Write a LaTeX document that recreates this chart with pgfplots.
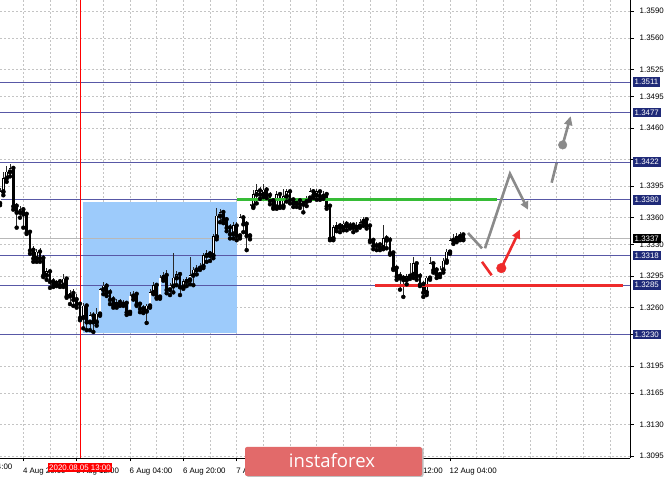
\documentclass[border=0pt]{standalone}
\usepackage{fontspec}
\setmainfont{Liberation Sans}
\newfontfamily\wmfont{Open Sans}
\usepackage{pgfplots}
\usepackage{pgfplotstable}
\pgfplotsset{compat=1.18}
\usetikzlibrary{arrows.meta}

\definecolor{gridc}{HTML}{C4C4C4}
\definecolor{hline}{HTML}{5858A6}
\definecolor{tagnavy}{HTML}{1F2A78}
\definecolor{zone}{HTML}{9DCBFB}
\definecolor{lvlgreen}{HTML}{36BC36}
\definecolor{lvlred}{HTML}{EE2B2B}
\definecolor{fcgray}{HTML}{8A8A8A}
\definecolor{bidgray}{HTML}{B8B8B8}
\definecolor{wmred}{HTML}{E26A6A}
\definecolor{wick}{HTML}{2A2A2A}

\newcommand\lbl{\fontsize{7.9}{8.5}\selectfont}

% H1 bars: index, open, high, low, close
\pgfplotstableread{
i o h l c
0 1.3376 1.3393 1.3374 1.3389
1 1.3389 1.3411 1.3385 1.3404
2 1.3404 1.3418 1.3400 1.3411
3 1.3411 1.3420 1.3406 1.3415
4 1.3415 1.3418 1.3369 1.3373
5 1.3373 1.3376 1.3349 1.3366
6 1.3366 1.3373 1.3360 1.3369
7 1.3369 1.3372 1.3349 1.3364
8 1.3364 1.3366 1.3342 1.3344
9 1.3344 1.3346 1.3320 1.3324
10 1.3324 1.3329 1.3311 1.3315
11 1.3315 1.3325 1.3311 1.3322
12 1.3322 1.3326 1.3311 1.3315
13 1.3315 1.3319 1.3294 1.3296
14 1.3296 1.3304 1.3291 1.3300
15 1.3300 1.3302 1.3282 1.3289
16 1.3289 1.3293 1.3283 1.3286
17 1.3286 1.3291 1.3284 1.3289
18 1.3289 1.3292 1.3283 1.3285
19 1.3285 1.3297 1.3283 1.3292
20 1.3292 1.3294 1.3271 1.3273
21 1.3273 1.3280 1.3264 1.3276
22 1.3276 1.3281 1.3262 1.3269
23 1.3269 1.3275 1.3260 1.3264
24 1.3264 1.3266 1.3246 1.3249
25 1.3249 1.3265 1.3237 1.3262
26 1.3262 1.3264 1.3235 1.3244
27 1.3244 1.3255 1.3235 1.3251
28 1.3251 1.3255 1.3233 1.3244
29 1.3244 1.3260 1.3240 1.3253
30 1.3253 1.3282 1.3251 1.3280
31 1.3280 1.3289 1.3275 1.3284
32 1.3284 1.3287 1.3273 1.3277
33 1.3277 1.3281 1.3264 1.3269
34 1.3269 1.3273 1.3260 1.3263
35 1.3263 1.3270 1.3260 1.3266
36 1.3266 1.3270 1.3262 1.3264
37 1.3264 1.3269 1.3262 1.3265
38 1.3265 1.3267 1.3252 1.3255
39 1.3255 1.3277 1.3253 1.3273
40 1.3273 1.3279 1.3269 1.3275
41 1.3275 1.3277 1.3262 1.3264
42 1.3264 1.3266 1.3255 1.3259
43 1.3259 1.3263 1.3254 1.3256
44 1.3256 1.3264 1.3243 1.3262
45 1.3262 1.3281 1.3260 1.3277
46 1.3277 1.3289 1.3275 1.3285
47 1.3285 1.3287 1.3270 1.3272
48 1.3272 1.3296 1.3270 1.3293
49 1.3293 1.3300 1.3290 1.3296
50 1.3296 1.3302 1.3276 1.3280
51 1.3280 1.3287 1.3274 1.3284
52 1.3284 1.3321 1.3277 1.3293
53 1.3293 1.3301 1.3285 1.3297
54 1.3297 1.3300 1.3274 1.3283
55 1.3283 1.3292 1.3281 1.3289
56 1.3289 1.3294 1.3284 1.3291
57 1.3291 1.3316 1.3286 1.3296
58 1.3296 1.3305 1.3285 1.3302
59 1.3302 1.3307 1.3297 1.3304
60 1.3304 1.3310 1.3302 1.3306
61 1.3306 1.3321 1.3304 1.3318
62 1.3318 1.3324 1.3311 1.3320
63 1.3320 1.3323 1.3312 1.3318
64 1.3318 1.3342 1.3315 1.3339
65 1.3339 1.3371 1.3336 1.3362
66 1.3362 1.3370 1.3355 1.3366
67 1.3366 1.3369 1.3354 1.3358
68 1.3358 1.3361 1.3345 1.3349
69 1.3349 1.3353 1.3337 1.3342
70 1.3342 1.3355 1.3337 1.3351
71 1.3351 1.3355 1.3335 1.3340
72 1.3340 1.3364 1.3337 1.3360
73 1.3360 1.3363 1.3344 1.3353
74 1.3353 1.3356 1.3324 1.3340
75 1.3340 1.3375 1.3336 1.3373
76 1.3373 1.3391 1.3371 1.3386
77 1.3386 1.3398 1.3376 1.3390
78 1.3390 1.3394 1.3381 1.3386
79 1.3386 1.3398 1.3383 1.3391
80 1.3391 1.3394 1.3382 1.3385
81 1.3385 1.3389 1.3375 1.3379
82 1.3379 1.3382 1.3370 1.3372
83 1.3372 1.3390 1.3370 1.3386
84 1.3386 1.3389 1.3371 1.3373
85 1.3373 1.3392 1.3371 1.3384
86 1.3384 1.3392 1.3378 1.3389
87 1.3389 1.3391 1.3376 1.3380
88 1.3380 1.3382 1.3372 1.3376
89 1.3376 1.3381 1.3372 1.3379
90 1.3379 1.3381 1.3371 1.3375
91 1.3375 1.3381 1.3366 1.3378
92 1.3378 1.3384 1.3373 1.3382
93 1.3382 1.3393 1.3379 1.3389
94 1.3389 1.3392 1.3382 1.3385
95 1.3385 1.3392 1.3380 1.3389
96 1.3389 1.3391 1.3380 1.3384
97 1.3384 1.3390 1.3381 1.3386
98 1.3386 1.3388 1.3370 1.3373
99 1.3373 1.3375 1.3335 1.3337
100 1.3337 1.3352 1.3335 1.3349
101 1.3349 1.3355 1.3345 1.3351
102 1.3351 1.3354 1.3344 1.3349
103 1.3349 1.3356 1.3346 1.3353
104 1.3353 1.3356 1.3346 1.3351
105 1.3351 1.3355 1.3348 1.3352
106 1.3352 1.3354 1.3344 1.3349
107 1.3349 1.3355 1.3346 1.3351
108 1.3351 1.3359 1.3349 1.3355
109 1.3355 1.3361 1.3351 1.3358
110 1.3358 1.3360 1.3348 1.3351
111 1.3351 1.3353 1.3333 1.3335
112 1.3335 1.3337 1.3325 1.3329
113 1.3329 1.3333 1.3324 1.3330
114 1.3330 1.3332 1.3324 1.3327
115 1.3327 1.3352 1.3325 1.3337
116 1.3337 1.3341 1.3326 1.3335
117 1.3335 1.3339 1.3319 1.3321
118 1.3321 1.3323 1.3302 1.3304
119 1.3304 1.3307 1.3291 1.3295
120 1.3295 1.3300 1.3280 1.3293
121 1.3293 1.3296 1.3272 1.3291
122 1.3291 1.3297 1.3286 1.3295
123 1.3295 1.3310 1.3292 1.3297
124 1.3297 1.3316 1.3293 1.3309
125 1.3309 1.3311 1.3291 1.3295
126 1.3295 1.3299 1.3284 1.3286
127 1.3286 1.3290 1.3272 1.3277
128 1.3277 1.3295 1.3274 1.3293
129 1.3293 1.3316 1.3291 1.3309
130 1.3309 1.3311 1.3299 1.3302
131 1.3302 1.3305 1.3293 1.3297
132 1.3297 1.3306 1.3294 1.3302
133 1.3302 1.3315 1.3299 1.3312
134 1.3312 1.3325 1.3310 1.3322
135 1.3322 1.3337 1.3320 1.3335
136 1.3335 1.3342 1.3331 1.3337
137 1.3337 1.3343 1.3333 1.3339
138 1.3339 1.3344 1.3335 1.3341
139 1.3341 1.3342 1.3335 1.3337
}\bars

\begin{document}
\begin{tikzpicture}
\begin{axis}[
  at={(0pt,20pt)}, anchor=south west,
  scale only axis, width=630pt, height=458pt,
  xmin=0, xmax=189, ymin=1.30928, ymax=1.36022,
  axis x line*=bottom, axis y line*=right,
  axis line style={black, line width=0.8pt},
  clip=false,
  tick align=outside, major tick length=3.5pt, minor tick length=0pt,
  tick style={black, line width=0.6pt},
  xtick={7,23,...,135},
  xticklabels={4 Aug 20:00,5 Aug 12:00,6 Aug 04:00,6 Aug 20:00,7 Aug 12:00,
    {},{},11 Aug 12:00,12 Aug 04:00},
  minor xtick={15,31,47,63,79,95,111,127,143,151,159,167,175,183},
  ytick={1.3095,1.3130,1.3165,1.3195,1.3230,1.3260,1.3295,1.3330,
    1.3360,1.3395,1.3425,1.3460,1.3495,1.3525,1.3560,1.3590},
  yticklabels={1.3095,1.3130,1.3165,1.3195,{},1.3260,1.3295,1.3330,
    1.3360,1.3395,{},1.3460,1.3495,1.3525,1.3560,1.3590},
  grid=both,
  major grid style={gridc, dash pattern=on 2pt off 2pt, line width=0.6pt},
  minor grid style={gridc, dash pattern=on 2pt off 2pt, line width=0.6pt},
  xticklabel style={font=\lbl, anchor=north west, inner sep=0pt, yshift=-6pt, xshift=-0.5pt},
  yticklabel style={font=\lbl, anchor=west, inner sep=0pt, xshift=6pt},
]
  % zone
  \addplot[fill=zone, draw=none] coordinates
    {(24.9,1.3377) (71.1,1.3377) (71.1,1.3232) (24.9,1.3232)};
  % levels
  \addplot[hline, line width=0.9pt] coordinates {(0,1.3511) (189,1.3511)};
  \addplot[hline, line width=0.9pt] coordinates {(0,1.3477) (189,1.3477)};
  \addplot[hline, line width=0.9pt] coordinates {(0,1.3422) (189,1.3422)};
  \addplot[hline, line width=0.9pt] coordinates {(0,1.3380) (189,1.3380)};
  \addplot[hline, line width=0.9pt] coordinates {(0,1.3318) (189,1.3318)};
  \addplot[hline, line width=0.9pt] coordinates {(0,1.3285) (189,1.3285)};
  \addplot[hline, line width=0.9pt] coordinates {(0,1.3230) (189,1.3230)};
  \addplot[bidgray, line width=0.8pt] coordinates {(0,1.3337) (189,1.3337)};
  \addplot[red, line width=0.8pt] coordinates {(24,1.30928) (24,1.36022)};

  % candles: wicks, bodies, hollow up-bodies
  \addplot[only marks, mark=none, forget plot,
    error bars/.cd, y dir=plus, y explicit, error mark=none,
    error bar style={wick, line width=0.8pt}]
    table[x=i, y=l, y error plus expr={\thisrow{h}-\thisrow{l}}] {\bars};
  \addplot[only marks, mark=none, forget plot,
    error bars/.cd, y dir=plus, y explicit, error mark=none,
    error bar style={black, line width=2.6pt}]
    table[x=i, y expr={min(\thisrow{o},\thisrow{c})-0.00004},
      y error plus expr={abs(\thisrow{c}-\thisrow{o})+0.00008}] {\bars};
  \addplot[only marks, mark=none, forget plot,
    error bars/.cd, y dir=plus, y explicit, error mark=none,
    error bar style={white, line width=1.2pt}]
    table[x=i, y expr={\thisrow{o}+0.00004},
      y error plus expr={max(\thisrow{c}-\thisrow{o}-0.00008,0)}] {\bars};

  % drawn levels
  \addplot[lvlgreen, line width=3pt] coordinates {(71.1,1.3380) (149.1,1.3380)};
  \addplot[lvlred, line width=3pt] coordinates {(112.5,1.3285) (186.9,1.3285)};

  % forecast sketch
  \addplot[fcgray, line width=2.6pt] coordinates {(140.4,1.3343) (144.6,1.3326)};
  \addplot[fcgray, line width=2.6pt, line join=miter,
    -{Triangle[length=8pt,width=8pt]}] coordinates
    {(145.5,1.3326) (153,1.3409) (158.4,1.3369)};
  \addplot[fcgray, line width=2.6pt] coordinates {(165.5,1.3399) (167,1.3421)};
  \addplot[fcgray, line width=2.6pt, -{Triangle[length=9pt,width=8pt]}]
    coordinates {(168.8,1.3441) (171.2,1.3473)};
  \addplot[only marks, mark=*, mark size=4.3pt, fcgray] coordinates {(168.8,1.3441)};
  \addplot[lvlred, line width=2.6pt] coordinates {(144.6,1.3311) (147.5,1.3296)};
  \addplot[lvlred, line width=2.6pt, -{Triangle[length=9pt,width=8pt]}]
    coordinates {(150.4,1.3304) (156,1.3347)};
  \addplot[only marks, mark=*, mark size=4.8pt, lvlred] coordinates {(150.4,1.3304)};

  % price tags
  \pgfplotsinvokeforeach{1.3511,1.3477,1.3422,1.3380,1.3318,1.3285,1.3230}{
    \node[fill=tagnavy, text=white, font=\lbl, anchor=west, inner xsep=2pt,
      inner ysep=2pt, xshift=2.5pt] at (axis cs:189,#1) {#1};
  }
  \node[fill=black, text=white, font=\lbl, anchor=west, inner xsep=2pt,
    inner ysep=2pt, xshift=2.5pt] at (axis cs:189,1.3337) {1.3337};
  \node[font=\lbl, anchor=north west, inner sep=0pt, yshift=-6pt, xshift=-0.5pt]
    at (axis cs:-9,1.30928) {4 Aug 04:00};
  \node[fill=red, text=white, font=\lbl, anchor=north, inner xsep=1.2pt,
    inner ysep=1.5pt, yshift=-5pt] at (axis cs:24,1.30928) {2020.08.05 13:00};
\end{axis}
\fill[black!25, rounded corners=2pt] (246.5pt,1pt) rectangle (423.5pt,30pt);
\fill[wmred, rounded corners=2pt] (245pt,2pt) rectangle (422pt,31pt);
\node[text=white, font=\wmfont\fontsize{18.5}{20}\selectfont, anchor=base]
  at (332pt,10pt) {instaforex};
\pgfresetboundingbox
\useasboundingbox (0pt,0pt) rectangle (665pt,478pt);
\end{tikzpicture}
\end{document}
